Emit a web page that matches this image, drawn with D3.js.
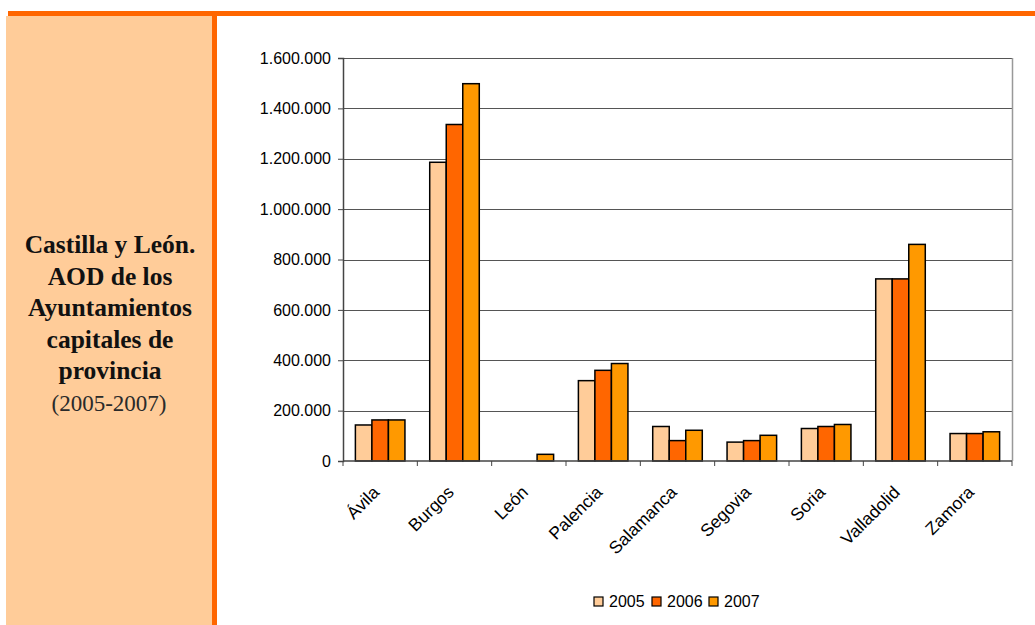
<!DOCTYPE html>
<html><head><meta charset="utf-8">
<script src="https://cdn.jsdelivr.net/npm/d3@7"></script>
<style>html,body{margin:0;padding:0;background:#fff;}svg{display:block;}</style>
</head><body>
<script>
const categories = ["Ávila","Burgos","León","Palencia","Salamanca","Segovia","Soria","Valladolid","Zamora"];
const seriesNames = ["2005","2006","2007"];
const values2005 = [143000, 1186000, 0, 319000, 137000, 75000, 129000, 723000, 109000];
const values2006 = [163000, 1336000, 0, 360000, 81000, 81000, 137000, 723000, 109000];
const values2007 = [163000, 1498000, 26500, 387000, 122000, 102000, 145000, 860000, 116000];
const yTicks = [0, 200000, 400000, 600000, 800000, 1000000, 1200000, 1400000, 1600000];
const titleLines = ["Castilla y León.", "AOD de los", "Ayuntamientos", "capitales de", "provincia"];
const subtitle = "(2005-2007)";
const colors = ["#FFCC99", "#FF6600", "#FF9900"];

(function(){
const W = 1035, H = 625;
const svg = d3.select("body").append("svg").attr("width", W).attr("height", H);

// decoration
svg.append("rect").attr("x", 6).attr("y", 16).attr("width", 206).attr("height", H - 16).attr("fill", "#FFCC99");
svg.append("rect").attr("x", 8).attr("y", 11).attr("width", W - 8).attr("height", 5).attr("fill", "#FF6600");
svg.append("rect").attr("x", 212).attr("y", 11).attr("width", 5).attr("height", H - 11).attr("fill", "#FF6600");

const tt = svg.append("text").attr("text-anchor", "middle")
  .attr("font-family", "'Liberation Serif','Times New Roman',serif").attr("fill", "#111");
titleLines.forEach((t, i) => {
  tt.append("tspan").attr("x", 110).attr("y", 253 + i * 31.5)
    .attr("font-weight", "bold").attr("font-size", 25.5).text(t);
});
tt.append("tspan").attr("x", 109).attr("y", 253 + 5 * 31.5)
  .attr("font-size", 23).attr("fill", "#2a2a2a").text(subtitle);

// chart
const pL = 343, pR = 1012, pT = 58, pB = 461;
const y = d3.scaleLinear().domain([0, 1600000]).range([pB, pT]);
const x0 = d3.scaleBand().domain(categories).range([pL, pR]).padding(0);
const bw = x0.bandwidth();
const x1 = d3.scaleBand().domain(seriesNames).range([bw / 6, bw * 5 / 6]).padding(0);

const fmt = v => d3.format(",")(v).replace(/,/g, ".");

// gridlines
svg.append("g").selectAll("line").data(yTicks.filter(d => d > 0)).join("line")
  .attr("x1", pL).attr("x2", pR).attr("y1", d => Math.round(y(d)) + 0.5).attr("y2", d => Math.round(y(d)) + 0.5)
  .attr("stroke", "#555").attr("stroke-width", 1);
svg.append("line").attr("x1", pR + 0.5).attr("x2", pR + 0.5).attr("y1", pT).attr("y2", pB)
  .attr("stroke", "#999").attr("stroke-width", 1.5);

// bars
const allVals = [values2005, values2006, values2007];
const data = [];
categories.forEach((c, i) => seriesNames.forEach((s, j) => data.push({c, s, v: allVals[j][i], j})));
svg.append("g").selectAll("rect").data(data.filter(d => d.v > 0)).join("rect")
  .attr("x", d => x0(d.c) + x1(d.s)).attr("width", x1.bandwidth())
  .attr("y", d => y(d.v)).attr("height", d => y(0) - y(d.v))
  .attr("fill", d => colors[d.j]).attr("stroke", "#000").attr("stroke-width", 1.5);

// y axis
const yAxis = d3.axisLeft(y).tickValues(yTicks).tickFormat(fmt).tickSize(5).tickPadding(7);
const gy = svg.append("g").attr("transform", `translate(${pL},0)`).call(yAxis);
gy.select(".domain").attr("stroke", "#444").attr("stroke-width", 1.5);
gy.selectAll(".tick line").attr("stroke", "#444");
gy.selectAll("text").attr("font-family", "'Liberation Sans',Arial,sans-serif").attr("font-size", 16).attr("fill", "#000");

// x axis
const gx = svg.append("g").attr("transform", `translate(0,${pB})`);
gx.append("line").attr("x1", pL).attr("x2", pR).attr("y1", 0).attr("y2", 0).attr("stroke", "#444").attr("stroke-width", 1.5);
const tickPos = categories.map(c => x0(c)).concat([pR]);
gx.selectAll("line.t").data(tickPos).join("line").attr("class", "t")
  .attr("x1", d => d).attr("x2", d => d).attr("y1", 0).attr("y2", 5).attr("stroke", "#444");
gx.selectAll("text").data(categories).join("text")
  .attr("transform", d => `translate(${x0(d) + bw / 2 - 4},${28}) rotate(-45)`)
  .attr("text-anchor", "end").attr("dy", "0.35em")
  .attr("font-family", "'Liberation Sans',Arial,sans-serif").attr("font-size", 17.5).attr("fill", "#000")
  .text(d => d);

// legend
const legX = [594, 652, 709];
const lg = svg.append("g").selectAll("g").data(seriesNames).join("g")
  .attr("transform", (d, i) => `translate(${legX[i]},597)`);
lg.append("rect").attr("width", 9).attr("height", 9).attr("fill", (d, i) => colors[i]).attr("stroke", "#000").attr("stroke-width", 1.2);
lg.append("text").attr("x", 15).attr("y", 4.5).attr("dy", "0.35em")
  .attr("font-family", "'Liberation Sans',Arial,sans-serif").attr("font-size", 16).attr("fill", "#000").text(d => d);
})();
</script>
</body></html>
